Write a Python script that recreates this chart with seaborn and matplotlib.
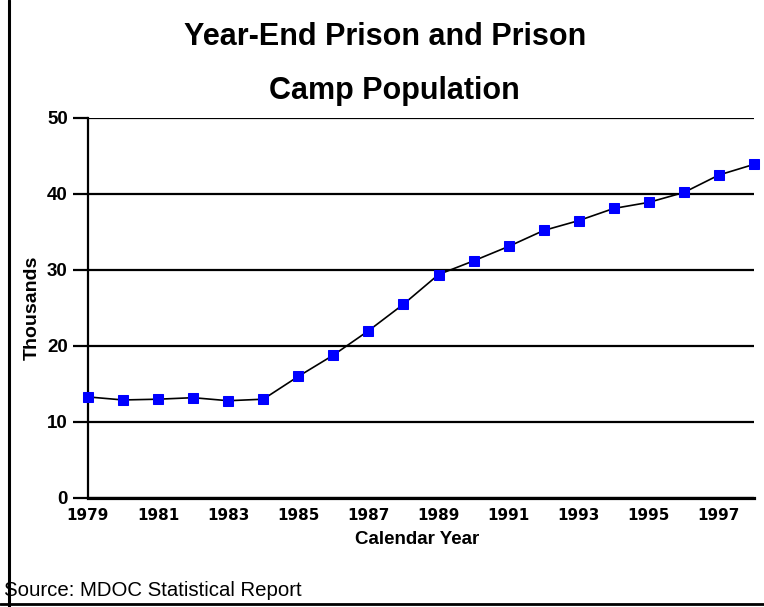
import matplotlib
matplotlib.use("Agg")
import matplotlib.pyplot as plt
import seaborn as sns
import pandas as pd
from matplotlib.lines import Line2D

years = list(range(1979, 1999))
population_thousands = [13.3, 12.9, 13.0, 13.2, 12.8, 13.0, 16.0, 18.8, 22.0, 25.5,
                        29.4, 31.2, 33.1, 35.2, 36.5, 38.1, 38.9, 40.2, 42.5, 43.9]
x_tick_labels = [1979, 1981, 1983, 1985, 1987, 1989, 1991, 1993, 1995, 1997]
y_ticks = [0, 10, 20, 30, 40, 50]

df = pd.DataFrame({"Year": years, "Thousands": population_thousands})

sns.set_theme(style="white")
plt.rcParams["font.family"] = ["Liberation Sans", "DejaVu Sans"]
plt.rcParams["text.color"] = "black"
plt.rcParams["xtick.color"] = "black"
plt.rcParams["ytick.color"] = "black"
plt.rcParams["axes.labelcolor"] = "black"

fig = plt.figure(figsize=(7.64, 6.07), dpi=100)
ax = fig.add_axes([88/764, 1-498/607, (754-88)/764, (498-118)/607])

sns.lineplot(data=df, x="Year", y="Thousands", ax=ax, color="black", lw=1.2,
             marker="s", markersize=7, markerfacecolor="#0000ff",
             markeredgecolor="#0000ff", clip_on=False, zorder=5)

ax.set_xlim(1979, 1998)
ax.set_ylim(0, 50)
ax.set_yticks(y_ticks)
ax.set_yticklabels([str(v) for v in y_ticks], fontsize=13.5, fontweight="bold")
ax.set_xticks(x_tick_labels)
ax.set_xticklabels([str(v) for v in x_tick_labels], fontsize=11, fontweight="bold",
                   family=["DejaVu Sans"])
ax.tick_params(axis="y", length=11, width=1.6, color="black", pad=3.5, direction="out", left=True)
ax.tick_params(axis="x", length=0, pad=7)
ax.yaxis.grid(True, color="black", lw=1.6)
ax.xaxis.grid(False)
for s in ["top", "right"]:
    ax.spines[s].set_visible(False)
ax.spines["left"].set_color("black")
ax.spines["left"].set_linewidth(1.6)
ax.spines["bottom"].set_color("black")
ax.spines["bottom"].set_linewidth(2.3)
ax.set_xlabel("")
ax.set_ylabel("")

fig.text(417/764, 1-540/607, "Calendar Year", fontsize=13.5, fontweight="bold",
         ha="center", va="center")
fig.text(32/764, 1-308/607, "Thousands", rotation=90, fontsize=14, fontweight="bold",
         ha="center", va="center")

fig.text(385/764, 1-45/607, "Year-End Prison and Prison", fontsize=22, fontweight="bold",
         ha="center", va="baseline")
fig.text(394/764, 1-99/607, "Camp Population", fontsize=22, fontweight="bold",
         ha="center", va="baseline")

fig.text(4/764, 1-590/607, "Source: MDOC Statistical Report", fontsize=14.7,
         ha="left", va="center")

fig.add_artist(Line2D([9/764, 9/764], [0, 1], color="black", lw=2.2, zorder=10))
fig.add_artist(Line2D([0, 1], [1-604/607, 1-604/607], color="black", lw=2, zorder=10))

fig.savefig("out.png", dpi=100, facecolor="white")
